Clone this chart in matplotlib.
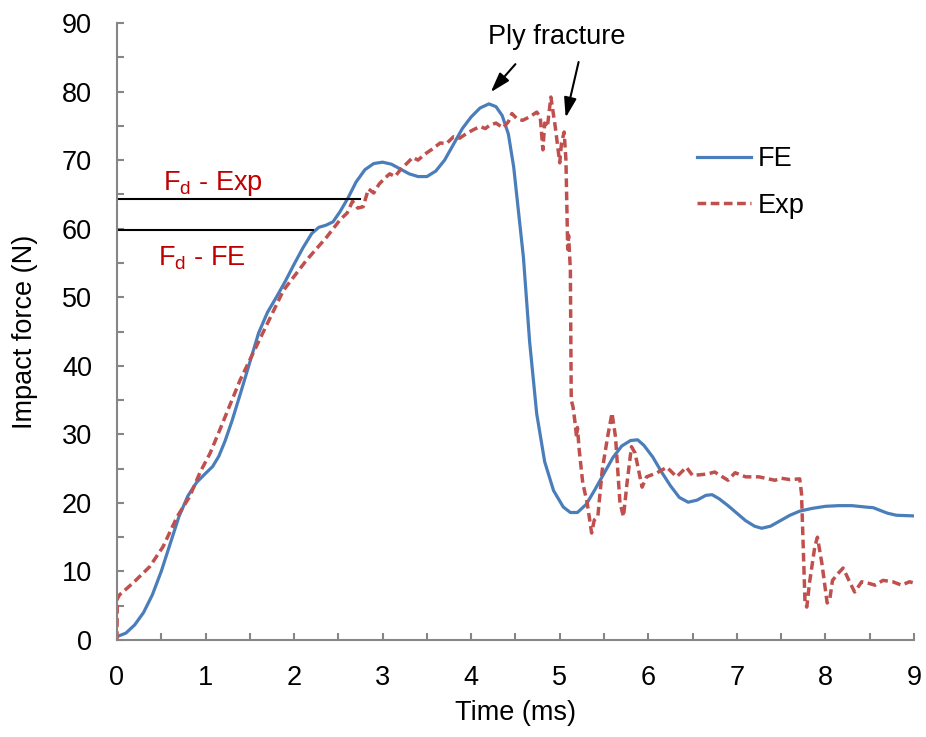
import matplotlib
matplotlib.use('Agg')
import matplotlib.pyplot as plt
from matplotlib.ticker import MultipleLocator

plt.rcParams['font.family'] = ['Liberation Sans', 'DejaVu Sans']
plt.rcParams['mathtext.fontset'] = 'custom'
plt.rcParams['mathtext.rm'] = 'Liberation Sans'

# FE simulation
fe_t = [0, 0.1, 0.2, 0.3, 0.4, 0.5, 0.6, 0.7, 0.8, 0.9, 1.0, 1.08, 1.15, 1.22, 1.3, 1.4,
        1.5, 1.6, 1.7, 1.8, 1.9, 2.0, 2.1, 2.2, 2.28, 2.36, 2.44, 2.52, 2.61, 2.7, 2.8,
        2.9, 3.0, 3.1, 3.2, 3.3, 3.4, 3.5, 3.6, 3.7, 3.8, 3.9, 4.0, 4.1, 4.2, 4.28, 4.35,
        4.42, 4.48, 4.53, 4.59, 4.66, 4.74, 4.83, 4.93, 5.04, 5.12, 5.2, 5.3, 5.4, 5.5,
        5.6, 5.7, 5.8, 5.88, 5.95, 6.05, 6.15, 6.25, 6.35, 6.45, 6.55, 6.65, 6.72, 6.8,
        6.9, 7.0, 7.1, 7.2, 7.28, 7.38, 7.49, 7.6, 7.71, 7.85, 8.0, 8.15, 8.3, 8.45, 8.54,
        8.62, 8.7, 8.8, 9.0]
fe_f = [0.5, 1.0, 2.2, 4.0, 6.6, 10.0, 14.0, 18.0, 21.0, 23.0, 24.3, 25.3, 26.8, 29.0,
        32.0, 36.2, 40.5, 44.8, 47.8, 50.0, 52.3, 54.8, 57.2, 59.3, 60.2, 60.5, 61.0, 62.5,
        64.5, 66.8, 68.6, 69.5, 69.7, 69.4, 68.7, 68.0, 67.6, 67.6, 68.4, 70.0, 72.3, 74.6,
        76.3, 77.6, 78.2, 77.8, 76.5, 73.8, 69.0, 63.0, 55.8, 43.5, 33.0, 26.0, 21.8, 19.4,
        18.6, 18.6, 19.8, 22.0, 24.3, 26.6, 28.3, 29.1, 29.2, 28.4, 26.7, 24.5, 22.5, 20.8,
        20.1, 20.4, 21.1, 21.2, 20.6, 19.6, 18.5, 17.4, 16.6, 16.3, 16.6, 17.4, 18.2, 18.8,
        19.2, 19.5, 19.6, 19.6, 19.4, 19.3, 18.9, 18.5, 18.2, 18.1]

# experiment
exp_t = [0, 0.004, 0.03, 0.18, 0.37, 0.52, 0.68, 0.82, 0.94, 1.05, 1.16, 1.39, 1.61, 1.88,
         2.14, 2.37, 2.52, 2.6, 2.66, 2.72, 2.78, 2.84, 2.9, 2.96, 3.02, 3.08, 3.14, 3.2,
         3.28, 3.34, 3.4, 3.48, 3.56, 3.65, 3.72, 3.8, 3.87, 3.95, 4.02, 4.1, 4.16, 4.21,
         4.28, 4.36, 4.42, 4.46, 4.52, 4.58, 4.66, 4.74, 4.78, 4.81, 4.83, 4.86, 4.9,
         4.95, 5.0, 5.02, 5.05, 5.07, 5.09, 5.1, 5.12, 5.13, 5.15, 5.17, 5.19, 5.2, 5.22,
         5.26, 5.31, 5.36, 5.39, 5.43, 5.48, 5.54, 5.59, 5.63, 5.68, 5.72, 5.76, 5.81,
         5.85, 5.93, 5.98, 6.1, 6.21, 6.32, 6.43, 6.5, 6.66, 6.75, 6.9, 6.98, 7.1, 7.25,
         7.43, 7.5, 7.6, 7.71, 7.73, 7.77, 7.79, 7.82, 7.88, 7.91, 7.96, 8.02, 8.05, 8.08,
         8.15, 8.2, 8.28, 8.33, 8.41, 8.48, 8.56, 8.65, 8.76, 8.86, 8.95, 9.0]
exp_f = [0, 6.0, 6.6, 8.3, 10.7, 13.6, 18.0, 20.9, 24.5, 27.2, 30.6, 37.9, 43.8, 51.0,
         55.4, 58.8, 61.3, 62.3, 64.0, 63.0, 63.2, 65.8, 65.2, 66.5, 67.3, 68.0, 67.6, 68.6,
         69.6, 70.4, 70.0, 70.9, 71.6, 72.5, 72.4, 73.4, 73.2, 73.9, 74.4, 74.9, 74.6, 75.1,
         75.4, 74.7, 75.6, 76.8, 76.0, 75.8, 76.3, 77.0, 76.3, 71.5, 75.4, 74.8, 79.2,
         74.8, 69.6, 72.5, 74.1, 70.0, 57.0, 59.0, 54.0, 35.0, 34.0, 32.0, 29.6, 31.0, 27.7,
         22.9, 20.0, 15.6, 17.5, 18.0, 24.8, 29.6, 33.1, 29.6, 20.0, 18.0, 22.9, 28.2,
         27.3, 22.3, 23.8, 24.4, 25.2, 23.8, 25.2, 24.0, 24.2, 24.5, 23.3, 24.4, 23.8, 23.8,
         23.3, 23.6, 23.4, 23.5, 21.4, 5.4, 4.8, 8.3, 13.6, 15.0, 11.2, 5.4, 6.0, 8.7,
         9.8, 10.5, 8.3, 7.0, 8.5, 8.3, 8.0, 8.7, 8.5, 8.0, 8.5, 8.3]

fd_exp = 64.4
fd_fe = 59.8

fig = plt.figure(figsize=(9.26, 7.37), dpi=100)
ax = fig.add_axes([0.1263, 0.1316, 0.8607, 0.8372])

ax.plot(fe_t, fe_f, color='#4A7EBB', lw=2.3, label='FE')
ax.plot(exp_t, exp_f, color='#C0504D', lw=2.5, dashes=(2.5, 1.3), label='Exp')

# F_d lines
ax.plot([0, 2.74], [fd_exp, fd_exp], color='black', lw=1.5)
ax.plot([0, 2.21], [fd_fe, fd_fe], color='black', lw=1.5)
ax.text(1.084, 65.6, r'F$_\mathrm{d}$ - Exp', color='#C00000', fontsize=19.5, ha='center', va='baseline')
ax.text(0.954, 54.7, r'F$_\mathrm{d}$ - FE', color='#C00000', fontsize=19.5, ha='center', va='baseline')

ax.text(4.97, 87.9, 'Ply fracture', fontsize=19.5, ha='center', va='center')
ax.annotate('', xy=(4.2, 79.6), xytext=(4.52, 84.3),
            arrowprops=dict(arrowstyle='-|>,head_length=0.8,head_width=0.25', color='black', lw=1.5, mutation_scale=15))
ax.annotate('', xy=(5.06, 75.8), xytext=(5.22, 84.7),
            arrowprops=dict(arrowstyle='-|>,head_length=0.8,head_width=0.25', color='black', lw=1.5, mutation_scale=15))

ax.set_xlim(0, 9)
ax.set_ylim(0, 90)
ax.xaxis.set_major_locator(MultipleLocator(1))
ax.xaxis.set_minor_locator(MultipleLocator(0.5))
ax.yaxis.set_major_locator(MultipleLocator(10))
ax.yaxis.set_minor_locator(MultipleLocator(5))

for s in ['top', 'right']:
    ax.spines[s].set_visible(False)
for s in ['left', 'bottom']:
    ax.spines[s].set_color('#868686')
    ax.spines[s].set_linewidth(1.5)
ax.tick_params(which='both', direction='in', length=5, width=1.5, color='#868686',
               labelsize=19.5, pad=18)

ax.set_xlabel('Time (ms)', fontsize=19.5)
ax.set_ylabel('Impact force (N)', fontsize=19.5)
ax.xaxis.set_label_coords(0.5, -0.097)
ax.yaxis.set_label_coords(-0.099, 0.5)

ax.legend(loc='upper left', bbox_to_anchor=(0.728, 0.80), frameon=False, fontsize=19.5,
          handlelength=2.0, handletextpad=0.25, labelspacing=0.75, borderpad=0, borderaxespad=0)

plt.savefig('out.png', dpi=100)
